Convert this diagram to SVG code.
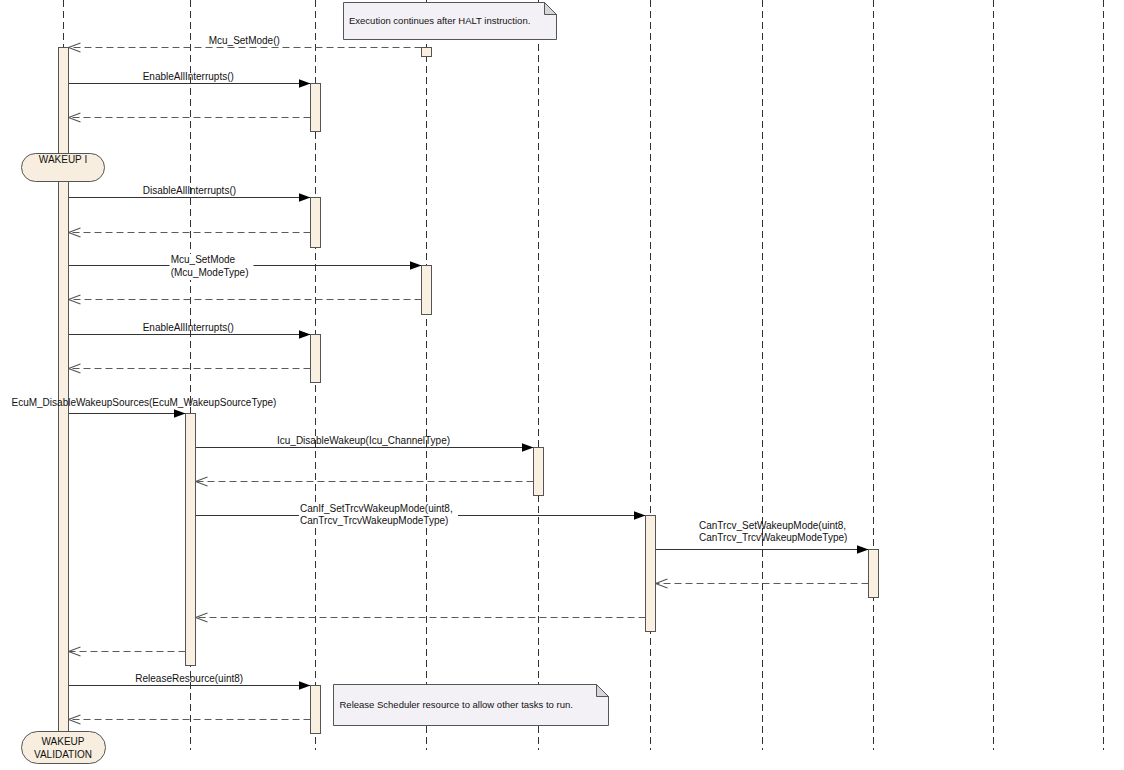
<svg xmlns="http://www.w3.org/2000/svg" width="1124" height="770" viewBox="0 0 1124 770">
<style>
.life{stroke:#333;stroke-width:1;stroke-dasharray:7 4;fill:none}
.act{fill:#FAF0E1;stroke:#555;stroke-width:1}
.call{stroke:#333;stroke-width:1;fill:none;marker-end:url(#callHead)}
.ret{stroke:#5a5a5a;stroke-width:1.2;stroke-dasharray:7 4;fill:none;marker-end:url(#retHead)}
.lbl{font-family:"Liberation Sans",Arial,sans-serif;font-size:10px;fill:#111}
.bg{fill:#fff;stroke:none}
.note{fill:#F4F1F6;stroke:#555;stroke-width:1}
.fold{fill:#D6D6DA;stroke:#555;stroke-width:1}
.ntxt{font-family:"Liberation Sans",Arial,sans-serif;font-size:9.5px;fill:#111}
.state{fill:#F8EEDF;stroke:#555;stroke-width:1}
.stxt{font-family:"Liberation Sans",Arial,sans-serif;font-size:10px;fill:#111;text-anchor:middle}
</style>
<defs>
<marker id="callHead" markerWidth="12" markerHeight="9" refX="12" refY="4.5" orient="auto" markerUnits="userSpaceOnUse"><path d="M0,0 L12,4.5 L0,9 Z" fill="#000"/></marker>
<marker id="retHead" markerWidth="14" markerHeight="11" refX="12.5" refY="5.5" orient="auto" markerUnits="userSpaceOnUse"><path d="M0.5,1 L12.5,5.5 L0.5,10" fill="none" stroke="#555" stroke-width="1.2"/></marker>
</defs>
<rect width="1124" height="770" fill="#fff"/>

<g id="lifelines">
<line class="life" x1="63.5" y1="0" x2="63.5" y2="750"/>
<line class="life" x1="190.5" y1="0" x2="190.5" y2="750"/>
<line class="life" x1="315.5" y1="0" x2="315.5" y2="750"/>
<line class="life" x1="426.5" y1="0" x2="426.5" y2="750"/>
<line class="life" x1="538.5" y1="0" x2="538.5" y2="750"/>
<line class="life" x1="650.5" y1="0" x2="650.5" y2="750"/>
<line class="life" x1="762.5" y1="0" x2="762.5" y2="750"/>
<line class="life" x1="873.5" y1="0" x2="873.5" y2="750"/>
<line class="life" x1="993.5" y1="0" x2="993.5" y2="750"/>
<line class="life" x1="1103.5" y1="0" x2="1103.5" y2="750"/>
</g>

<g id="connectors">
<line class="ret" x1="421.5" y1="47.5" x2="68.5" y2="47.5"/>
<line class="call" x1="68.5" y1="83.5" x2="310.5" y2="83.5"/>
<line class="ret" x1="310.5" y1="117.5" x2="68.5" y2="117.5"/>
<line class="call" x1="68.5" y1="197.5" x2="310.5" y2="197.5"/>
<line class="ret" x1="310.5" y1="232.5" x2="68.5" y2="232.5"/>
<line class="call" x1="68.5" y1="265.5" x2="421.5" y2="265.5"/>
<line class="ret" x1="421.5" y1="299.5" x2="68.5" y2="299.5"/>
<line class="call" x1="68.5" y1="334.5" x2="310.5" y2="334.5"/>
<line class="ret" x1="310.5" y1="368.5" x2="68.5" y2="368.5"/>
<line class="call" x1="68.5" y1="413.5" x2="185.5" y2="413.5"/>
<line class="call" x1="195.5" y1="447.5" x2="533.5" y2="447.5"/>
<line class="ret" x1="533.5" y1="481.5" x2="195.5" y2="481.5"/>
<line class="call" x1="195.5" y1="515.5" x2="645.5" y2="515.5"/>
<line class="call" x1="655.5" y1="549.5" x2="868.5" y2="549.5"/>
<line class="ret" x1="868.5" y1="583.5" x2="655.5" y2="583.5"/>
<line class="ret" x1="645.5" y1="617.5" x2="195.5" y2="617.5"/>
<line class="ret" x1="185.5" y1="651.5" x2="68.5" y2="651.5"/>
<line class="call" x1="68.5" y1="685.5" x2="310.5" y2="685.5"/>
<line class="ret" x1="310.5" y1="719.5" x2="68.5" y2="719.5"/>
</g>

<g id="EcuM">
<rect class="act" x="58.5" y="47.5" width="10" height="684"/>
</g>
<g id="Scheduler">
<rect class="act" x="185.5" y="413.5" width="10" height="252"/>
</g>
<g id="Os">
<rect class="act" x="310.5" y="83.5" width="10" height="48"/>
<rect class="act" x="310.5" y="197.5" width="10" height="50"/>
<rect class="act" x="310.5" y="334.5" width="10" height="48"/>
<rect class="act" x="310.5" y="685.5" width="10" height="48"/>
</g>
<g id="Mcu">
<rect class="act" x="421.5" y="47.5" width="10" height="9"/>
<rect class="act" x="421.5" y="265.5" width="10" height="49"/>
</g>
<g id="Icu">
<rect class="act" x="533.5" y="447.5" width="10" height="48"/>
</g>
<g id="CanIf">
<rect class="act" x="645.5" y="515.5" width="10" height="116"/>
</g>
<g id="CanTrcv">
<rect class="act" x="868.5" y="549.5" width="10" height="48"/>
</g>

<g id="labels">
<text class="lbl" x="208.7" y="44">Mcu_SetMode()</text>
<text class="lbl" x="142.7" y="80">EnableAllInterrupts()</text>
<text class="lbl" x="142.7" y="194">DisableAllInterrupts()</text>
<rect class="bg" x="169.5" y="254" width="84" height="26"/>
<text class="lbl" x="170.7" y="263">Mcu_SetMode</text>
<text class="lbl" x="170.7" y="276">(Mcu_ModeType)</text>
<text class="lbl" x="142.7" y="331">EnableAllInterrupts()</text>
<text class="lbl" x="11.5" y="405.5">EcuM_DisableWakeupSources(EcuM_WakeupSourceType)</text>
<text class="lbl" x="277" y="444">Icu_DisableWakeup(Icu_ChannelType)</text>
<rect class="bg" x="299" y="503" width="159" height="24"/>
<text class="lbl" x="300" y="512">CanIf_SetTrcvWakeupMode(uint8,</text>
<text class="lbl" x="300" y="524">CanTrcv_TrcvWakeupModeType)</text>
<text class="lbl" x="699" y="528.5">CanTrcv_SetWakeupMode(uint8,</text>
<text class="lbl" x="699" y="541">CanTrcv_TrcvWakeupModeType)</text>
<text class="lbl" x="135.3" y="682">ReleaseResource(uint8)</text>
</g>

<g id="state-wakeup-i">
<rect class="state" x="21.5" y="153.5" width="83" height="28" rx="14" ry="14"/>
<text class="stxt" x="63" y="163">WAKEUP I</text>
</g>
<g id="state-wakeup-validation">
<rect class="state" x="21.5" y="731.5" width="84" height="32" rx="16" ry="16"/>
<text class="stxt" x="63" y="745">WAKEUP</text>
<text class="stxt" x="63" y="758">VALIDATION</text>
</g>

<g id="note-halt">
<path class="note" d="M343.5,2.5 H544.5 L556.5,14.5 V39.5 H343.5 Z"/>
<path class="fold" d="M544.5,2.5 L556.5,14.5 H544.5 Z"/>
<text class="ntxt" x="349" y="24">Execution continues after HALT instruction.</text>
</g>
<g id="note-release">
<path class="note" d="M333.5,684.5 H596.5 L608.5,696.5 V725.5 H333.5 Z"/>
<path class="fold" d="M596.5,684.5 L608.5,696.5 H596.5 Z"/>
<text class="ntxt" x="339.5" y="708">Release Scheduler resource to allow other tasks to run.</text>
</g>
</svg>
